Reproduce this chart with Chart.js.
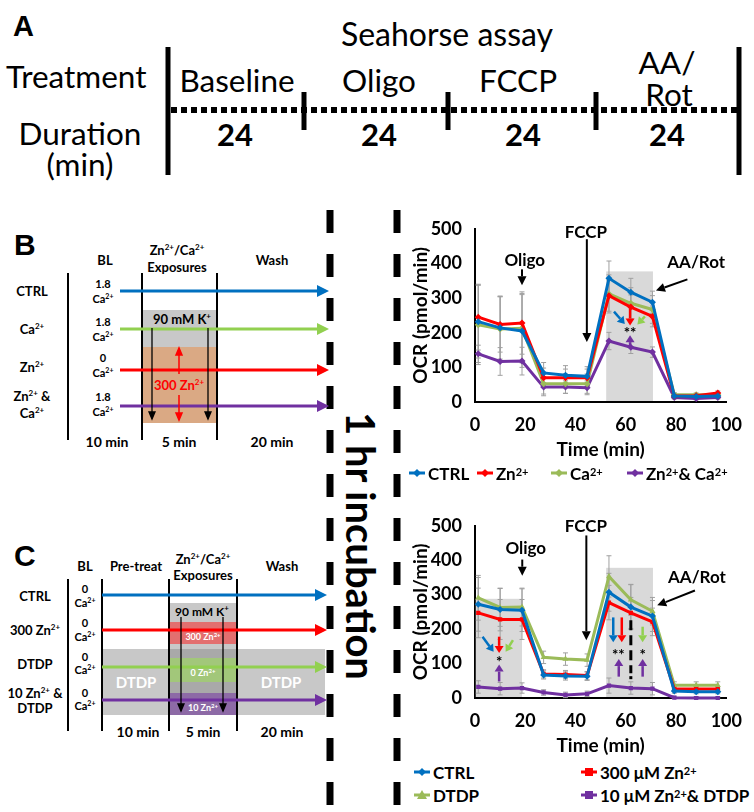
<!DOCTYPE html>
<html><head><meta charset="utf-8">
<script src="https://cdn.jsdelivr.net/npm/chart.js@4.4.1/dist/chart.umd.min.js"></script>
<style>
html,body{margin:0;padding:0;background:#fff;}
#wrap{position:relative;width:754px;height:812px;overflow:hidden;font-family:Lato,"Open Sans",sans-serif;}
#diag{position:absolute;left:0;top:0;}
.cv{position:absolute;}
.leg{position:absolute;height:22px;font-weight:700;font-size:17px;display:flex;align-items:center;white-space:nowrap;color:#000;font-family:Lato,sans-serif;}
.leg svg{margin-right:3px;}
.leg sup{font-size:11px;line-height:0;position:relative;top:-1px;}
</style></head>
<body>
<div id="wrap">
<svg id="diag" width="754" height="812" xmlns="http://www.w3.org/2000/svg" font-family="Lato, sans-serif">
  <!-- Panel A -->
  <text x="13" y="36" font-family="Liberation Sans, Arial, sans-serif" font-weight="700" font-size="29">A</text>
  <text x="447" y="46" font-size="32" text-anchor="middle">Seahorse assay</text>
  <text x="6" y="88" font-size="31.5">Treatment</text>
  <text x="80" y="145" font-size="31.5" text-anchor="middle">Duration</text>
  <text x="80" y="176" font-size="31.5" text-anchor="middle">(min)</text>
  <text x="237" y="92" font-size="31.5" text-anchor="middle">Baseline</text>
  <text x="379" y="92" font-size="31.5" text-anchor="middle">Oligo</text>
  <text x="518" y="92" font-size="31.5" text-anchor="middle">FCCP</text>
  <text x="667" y="74" font-size="31.5" text-anchor="middle">AA/</text>
  <text x="669" y="106" font-size="31.5" text-anchor="middle">Rot</text>
  <g font-size="31" font-weight="700" text-anchor="middle">
    <text x="235" y="146">24</text><text x="379" y="146">24</text><text x="523" y="146">24</text><text x="667" y="146">24</text>
  </g>
  <line x1="168" y1="47" x2="168" y2="175" stroke="#000" stroke-width="5"/>
  <line x1="739" y1="47" x2="739" y2="175" stroke="#000" stroke-width="5"/>
  <line x1="304" y1="92" x2="304" y2="130" stroke="#000" stroke-width="5"/>
  <line x1="448" y1="92" x2="448" y2="130" stroke="#000" stroke-width="5"/>
  <line x1="596" y1="92" x2="596" y2="130" stroke="#000" stroke-width="5"/>
  <line x1="171" y1="110" x2="737" y2="110" stroke="#000" stroke-width="6" stroke-dasharray="6 4"/>

  <!-- dashed separators -->
  <line x1="330" y1="210" x2="330" y2="812" stroke="#000" stroke-width="7" stroke-dasharray="23 21"/>
  <line x1="397" y1="210" x2="397" y2="812" stroke="#000" stroke-width="7" stroke-dasharray="23 21"/>
  <text transform="translate(361,546) rotate(90)" text-anchor="middle" dominant-baseline="central" font-size="40" font-weight="700">1 hr incubation</text>

  <!-- Panel B diagram -->
  <text x="14" y="255" font-family="Liberation Sans, Arial, sans-serif" font-weight="700" font-size="30">B</text>
  <rect x="143" y="310" width="74" height="37" fill="#c8c8c8"/>
  <rect x="143" y="347" width="74" height="76" fill="#daa984"/>
  <g stroke="#000" stroke-width="2">
    <line x1="68" y1="273" x2="68" y2="440"/>
    <line x1="142" y1="273" x2="142" y2="440"/>
    <line x1="217" y1="273" x2="217" y2="440"/>
  </g>
  <g font-weight="700" font-size="13" text-anchor="middle">
    <text x="105" y="265">BL</text>
    <text x="177" y="255">Zn<tspan font-size="8" dy="-5">2+</tspan><tspan dy="5">/Ca</tspan><tspan font-size="8" dy="-5">2+</tspan></text>
    <text x="177" y="272">Exposures</text>
    <text x="272" y="265">Wash</text>
    <text x="32" y="296">CTRL</text>
    <text x="32" y="334">Ca<tspan font-size="8" dy="-5">2+</tspan></text>
    <text x="32" y="372">Zn<tspan font-size="8" dy="-5">2+</tspan></text>
    <text x="32" y="401">Zn<tspan font-size="8" dy="-5">2+</tspan><tspan dy="5"> &amp;</tspan></text>
    <text x="32" y="418">Ca<tspan font-size="8" dy="-5">2+</tspan></text>
    <text x="107" y="447" font-size="14">10 min</text>
    <text x="179" y="447" font-size="14">5 min</text>
    <text x="272" y="447" font-size="14">20 min</text>
  </g>
  <g font-weight="700" font-size="11" text-anchor="middle">
    <text x="103" y="288">1.8</text><text x="103" y="303">Ca<tspan font-size="7" dy="-4">2+</tspan></text>
    <text x="103" y="326">1.8</text><text x="103" y="341">Ca<tspan font-size="7" dy="-4">2+</tspan></text>
    <text x="103" y="362">0</text><text x="103" y="377">Ca<tspan font-size="7" dy="-4">2+</tspan></text>
    <text x="103" y="401">1.8</text><text x="103" y="416">Ca<tspan font-size="7" dy="-4">2+</tspan></text>
  </g>
  <text x="182" y="324" font-size="13" font-weight="700" text-anchor="middle">90 mM K<tspan font-size="8" dy="-5">+</tspan></text>
  <text x="179" y="390" font-size="13" font-weight="700" text-anchor="middle" fill="#ff0000">300 Zn<tspan font-size="8" dy="-5">2+</tspan></text>
  <!-- B arrows -->
  <g stroke-width="3">
    <line x1="120" y1="291" x2="318" y2="291" stroke="#0070C0"/><polygon points="317,285 329,291 317,297" fill="#0070C0"/>
    <line x1="120" y1="329" x2="318" y2="329" stroke="#92D050"/><polygon points="317,323 329,329 317,335" fill="#92D050"/>
    <line x1="120" y1="370" x2="318" y2="370" stroke="#FF0000"/><polygon points="317,364 329,370 317,376" fill="#FF0000"/>
    <line x1="120" y1="406" x2="318" y2="406" stroke="#7030A0"/><polygon points="317,400 329,406 317,412" fill="#7030A0"/>
  </g>
  <g stroke="#000" stroke-width="1.3">
    <line x1="152" y1="328" x2="152" y2="413"/><polygon points="149,412 152,419 155,412" fill="#000"/>
    <line x1="208" y1="328" x2="208" y2="413"/><polygon points="205,412 208,419 211,412" fill="#000"/>
  </g>
  <g stroke="#FF0000" stroke-width="1.5">
    <line x1="179" y1="374" x2="179" y2="354"/><polygon points="176,355 179,348 182,355" fill="#FF0000"/>
    <line x1="179" y1="395" x2="179" y2="414"/><polygon points="176,413 179,420 182,413" fill="#FF0000"/>
  </g>

  <!-- Panel C diagram -->
  <text x="14" y="566" font-family="Liberation Sans, Arial, sans-serif" font-weight="700" font-size="30">C</text>
  <rect x="102" y="649" width="223" height="66" fill="#c8c8c8"/>
  <rect x="169" y="603" width="68" height="112" fill="#c8c8c8"/>
  <rect x="169" y="649" width="68" height="66" fill="#a9a9a9"/>
  <rect x="169" y="622" width="68" height="22" fill="#e36f6f"/>
  <rect x="169" y="658" width="68" height="24" fill="#a2c77a"/>
  <rect x="169" y="693" width="68" height="22" fill="#8d6aa6"/>
  <g stroke="#000" stroke-width="2">
    <line x1="68" y1="579" x2="68" y2="731"/>
    <line x1="102" y1="579" x2="102" y2="731"/>
    <line x1="169" y1="579" x2="169" y2="731"/>
    <line x1="237" y1="579" x2="237" y2="731"/>
  </g>
  <g font-weight="700" font-size="13" text-anchor="middle">
    <text x="85" y="571">BL</text>
    <text x="136" y="571">Pre-treat</text>
    <text x="203" y="564">Zn<tspan font-size="8" dy="-5">2+</tspan><tspan dy="5">/Ca</tspan><tspan font-size="8" dy="-5">2+</tspan></text>
    <text x="203" y="580">Exposures</text>
    <text x="282" y="571">Wash</text>
    <text x="35" y="601">CTRL</text>
    <text x="35" y="635">300 Zn<tspan font-size="8" dy="-5">2+</tspan></text>
    <text x="35" y="669">DTDP</text>
    <text x="35" y="698">10 Zn<tspan font-size="8" dy="-5">2+</tspan><tspan dy="5"> &amp;</tspan></text>
    <text x="35" y="713">DTDP</text>
    <text x="138" y="737" font-size="14">10 min</text>
    <text x="203" y="737" font-size="14">5 min</text>
    <text x="282" y="737" font-size="14">20 min</text>
    <text x="136" y="688" font-size="15" fill="#fff">DTDP</text>
    <text x="281" y="688" font-size="15" fill="#fff">DTDP</text>
  </g>
  <g font-weight="700" font-size="11" text-anchor="middle">
    <text x="85" y="593">0</text><text x="85" y="607">Ca<tspan font-size="7" dy="-4">2+</tspan></text>
    <text x="85" y="627">0</text><text x="85" y="641">Ca<tspan font-size="7" dy="-4">2+</tspan></text>
    <text x="85" y="661">0</text><text x="85" y="674">Ca<tspan font-size="7" dy="-4">2+</tspan></text>
    <text x="85" y="697">0</text><text x="85" y="710">Ca<tspan font-size="7" dy="-4">2+</tspan></text>
  </g>
  <text x="202" y="616" font-size="12" font-weight="700" text-anchor="middle">90 mM K<tspan font-size="8" dy="-5">+</tspan></text>
  <g font-size="9" font-weight="700" text-anchor="middle" fill="#fff">
    <text x="203" y="640">300 Zn<tspan font-size="6" dy="-3">2+</tspan></text>
    <text x="203" y="676">0 Zn<tspan font-size="6" dy="-3">2+</tspan></text>
    <text x="203" y="711">10 Zn<tspan font-size="6" dy="-3">2+</tspan></text>
  </g>
  <g stroke-width="3">
    <line x1="102" y1="595" x2="316" y2="595" stroke="#0070C0"/><polygon points="315,589 327,595 315,601" fill="#0070C0"/>
    <line x1="102" y1="630" x2="316" y2="630" stroke="#FF0000"/><polygon points="315,624 327,630 315,636" fill="#FF0000"/>
    <line x1="102" y1="667" x2="316" y2="667" stroke="#92D050"/><polygon points="315,661 327,667 315,673" fill="#92D050"/>
    <line x1="102" y1="700" x2="316" y2="700" stroke="#7030A0"/><polygon points="315,694 327,700 315,706" fill="#7030A0"/>
  </g>
  <g stroke="#000" stroke-width="1.3">
    <line x1="181" y1="617" x2="181" y2="705"/><polygon points="178,704 181,711 184,704" fill="#000"/>
    <line x1="223" y1="617" x2="223" y2="705"/><polygon points="220,704 223,711 226,704" fill="#000"/>
  </g>
</svg>

<canvas id="chartB" class="cv" width="364" height="260" style="left:390px;top:205px;width:364px;height:260px"></canvas>
<canvas id="chartC" class="cv" width="364" height="259" style="left:390px;top:502px;width:364px;height:259px"></canvas>

<!-- legends -->
<div class="leg" style="left:409px;top:462px"><svg width="16" height="10"><line x1="0" y1="5" x2="16" y2="5" stroke="#0070C0" stroke-width="3"/><polygon points="8,1 12,5 8,9 4,5" fill="#0070C0"/></svg>CTRL</div>
<div class="leg" style="left:477px;top:462px"><svg width="16" height="10"><line x1="0" y1="5" x2="16" y2="5" stroke="#FF0000" stroke-width="3"/><polygon points="8,1 12,5 8,9 4,5" fill="#FF0000"/></svg>Zn<sup>2+</sup></div>
<div class="leg" style="left:551px;top:462px"><svg width="16" height="10"><line x1="0" y1="5" x2="16" y2="5" stroke="#9BBB59" stroke-width="3"/><polygon points="8,1 12,5 8,9 4,5" fill="#9BBB59"/></svg>Ca<sup>2+</sup></div>
<div class="leg" style="left:627px;top:462px"><svg width="16" height="10"><line x1="0" y1="5" x2="16" y2="5" stroke="#7030A0" stroke-width="3"/><polygon points="8,1 12,5 8,9 4,5" fill="#7030A0"/></svg>Zn<sup>2+</sup>&amp; Ca<sup>2+</sup></div>

<div class="leg" style="left:414px;top:761px"><svg width="16" height="10"><line x1="0" y1="5" x2="16" y2="5" stroke="#0070C0" stroke-width="3"/><polygon points="8,1 12,5 8,9 4,5" fill="#0070C0"/></svg>CTRL</div>
<div class="leg" style="left:581px;top:761px"><svg width="16" height="10"><line x1="0" y1="5" x2="16" y2="5" stroke="#FF0000" stroke-width="3"/><rect x="4" y="1" width="8" height="8" fill="#FF0000"/></svg>300 μM Zn<sup>2+</sup></div>
<div class="leg" style="left:414px;top:784px"><svg width="16" height="10"><line x1="0" y1="5" x2="16" y2="5" stroke="#9BBB59" stroke-width="3"/><polygon points="8,0 13,9 3,9" fill="#9BBB59"/></svg>DTDP</div>
<div class="leg" style="left:581px;top:784px"><svg width="16" height="10"><line x1="0" y1="5" x2="16" y2="5" stroke="#7030A0" stroke-width="3"/><rect x="4" y="1" width="8" height="8" fill="#7030A0"/></svg>10 μM Zn<sup>2+</sup> &amp; DTDP</div>
</div>

<script>
// ---- data ----
const times = [1.3, 10, 18.7, 27.3, 36, 44.6, 53.3, 62, 70.6, 79.3, 88, 96.6];
const xTickStep = 20;
const yTickStep = 100;

// Panel B
const bCtrl  = [232, 214, 205, 84, 77, 74, 357, 317, 288, 17, 16, 17];
const bZn    = [245, 224, 228, 70, 70, 70, 307, 274, 247, 17, 18, 26];
const bCa    = [223, 211, 213, 53, 53, 53, 312, 285, 267, 21, 21, 20];
const bZnCa  = [139, 117, 118, 43, 43, 41, 176, 158, 144, 13, 10, 13];
const bCtrlErr = [105, 90, 105, 30, 28, 28, 50, 40, 32, 6, 5, 5];
const bZnErr   = [95, 80, 90, 28, 25, 25, 45, 35, 30, 5, 5, 6];
const bCaErr   = [115, 95, 100, 30, 28, 28, 55, 45, 40, 6, 5, 5];
const bZnCaErr = [25, 40, 40, 25, 18, 20, 25, 18, 15, 4, 4, 4];

// Panel C
const cCtrl   = [272, 257, 255, 67, 64, 63, 307, 264, 238, 20, 18, 18];
const cZn300  = [247, 228, 228, 70, 68, 65, 277, 247, 221, 26, 26, 26];
const cDtdp   = [291, 263, 264, 118, 113, 110, 353, 285, 252, 37, 37, 37];
const cZnDtdp = [32, 27, 29, 16, 9, 12, 36, 29, 27, 1, 0, 0];
const cCtrlErr   = [78, 62, 62, 12, 12, 12, 55, 65, 45, 6, 6, 6];
const cZn300Err  = [72, 58, 58, 12, 12, 12, 50, 45, 40, 6, 6, 6];
const cDtdpErr   = [65, 55, 55, 18, 18, 18, 60, 45, 40, 10, 10, 10];
const cZnDtdpErr = [18, 18, 15, 8, 8, 8, 22, 18, 18, 4, 4, 4];

const BLUE = '#0070C0', RED = '#FF0000', GREEN = '#9BBB59', PURPLE = '#7030A0', LGREEN = '#92D050';

// ---- annotations (data units) ----
const notesB = {
  boxes: [{x0: 52.2, x1: 70.8, top: 377}],
  texts: [{t: 'Oligo', x: 19.8, y: 409}, {t: 'FCCP', x: 44.1, y: 489}, {t: 'AA/Rot', x: 88, y: 403}],
  arrows: [{x0: 18.7, y0: 383, x1: 18.7, y1: 337}, {x0: 44.5, y0: 470, x1: 44.5, y1: 173}, {x0: 84.5, y0: 354, x1: 72, y1: 322}],
  colorArrows: [
    {x0: 55.3, y0: 261, x1: 59.6, y1: 225, c: BLUE},
    {x0: 61.7, y0: 270, x1: 61.7, y1: 221, c: RED},
    {x0: 67.6, y0: 247, x1: 64.6, y1: 224, c: LGREEN},
    {x0: 61.7, y0: 160, x1: 61.7, y1: 193, c: PURPLE}
  ],
  stars: [{t: '**', x: 61.7, y: 206}],
  dashdot: []
};
const notesC = {
  boxes: [{x0: 0.3, x1: 18.7, top: 288}, {x0: 52.2, x1: 70.8, top: 378}],
  texts: [{t: 'Oligo', x: 20.2, y: 433}, {t: 'FCCP', x: 44.1, y: 499}, {t: 'AA/Rot', x: 88.3, y: 350}],
  arrows: [{x0: 18.8, y0: 402, x1: 18.8, y1: 355}, {x0: 44.3, y0: 472, x1: 44.3, y1: 168}, {x0: 87.5, y0: 312, x1: 72.5, y1: 269}],
  colorArrows: [
    {x0: 3.0, y0: 178, x1: 7.4, y1: 134, c: BLUE},
    {x0: 9.6, y0: 178, x1: 9.6, y1: 131, c: RED},
    {x0: 15.1, y0: 168, x1: 12.2, y1: 134, c: LGREEN},
    {x0: 9.6, y0: 48, x1: 9.6, y1: 97, c: PURPLE},
    {x0: 55.0, y0: 234, x1: 55.0, y1: 162, c: BLUE},
    {x0: 58.4, y0: 234, x1: 58.4, y1: 162, c: RED},
    {x0: 66.7, y0: 207, x1: 66.7, y1: 162, c: LGREEN},
    {x0: 57.2, y0: 62, x1: 57.2, y1: 113, c: PURPLE},
    {x0: 66.7, y0: 62, x1: 66.7, y1: 113, c: PURPLE}
  ],
  stars: [{t: '*', x: 9.6, y: 112}, {t: '**', x: 57.0, y: 134}, {t: '*', x: 66.7, y: 134}],
  dashdot: [{x: 62, y0: 226, y1: 72, dot: 59}]
};

function arrow(ctx, x0, y0, x1, y1, color, lw, hl, hw) {
  const a = Math.atan2(y1 - y0, x1 - x0);
  const bx = x1 - hl * Math.cos(a), by = y1 - hl * Math.sin(a);
  ctx.strokeStyle = color; ctx.lineWidth = lw;
  ctx.beginPath(); ctx.moveTo(x0, y0); ctx.lineTo(bx, by); ctx.stroke();
  ctx.fillStyle = color; ctx.beginPath();
  ctx.moveTo(x1, y1);
  ctx.lineTo(bx + hw * Math.sin(a), by - hw * Math.cos(a));
  ctx.lineTo(bx - hw * Math.sin(a), by + hw * Math.cos(a));
  ctx.closePath(); ctx.fill();
}

function notesPlugin(notes) {
  return {
    id: 'notes',
    beforeDatasetsDraw(chart) {
      const {ctx, scales: {x, y}} = chart;
      ctx.save();
      ctx.fillStyle = '#d9d9d9';
      notes.boxes.forEach(b => {
        const px0 = x.getPixelForValue(b.x0), px1 = x.getPixelForValue(b.x1);
        const pt = y.getPixelForValue(b.top), pb = y.getPixelForValue(0);
        ctx.fillRect(px0, pt, px1 - px0, pb - pt - 1);
      });
      ctx.strokeStyle = '#a0a0a0'; ctx.lineWidth = 1;
      chart.data.datasets.forEach(ds => {
        ds.data.forEach((p, i) => {
          const e = ds.errs[i];
          const px = x.getPixelForValue(p.x);
          const top = y.getPixelForValue(p.y + e), bot = y.getPixelForValue(Math.max(0, p.y - e));
          ctx.beginPath();
          ctx.moveTo(px, top); ctx.lineTo(px, bot);
          ctx.moveTo(px - 2.5, top); ctx.lineTo(px + 2.5, top);
          ctx.moveTo(px - 2.5, bot); ctx.lineTo(px + 2.5, bot);
          ctx.stroke();
        });
      });
      ctx.restore();
    },
    afterDatasetsDraw(chart) {
      const {ctx, scales: {x, y}} = chart;
      const X = v => x.getPixelForValue(v), Y = v => y.getPixelForValue(v);
      ctx.save();
      ctx.fillStyle = '#000'; ctx.textAlign = 'center'; ctx.textBaseline = 'middle';
      ctx.font = 'bold 17px Lato, sans-serif';
      notes.texts.forEach(t => ctx.fillText(t.t, X(t.x), Y(t.y)));
      notes.arrows.forEach(a => arrow(ctx, X(a.x0), Y(a.y0), X(a.x1), Y(a.y1), '#000', 2, 9, 4.5));
      notes.colorArrows.forEach(a => arrow(ctx, X(a.x0), Y(a.y0), X(a.x1), Y(a.y1), a.c, 2.5, 7, 4.5));
      ctx.fillStyle = '#000'; ctx.font = 'bold 15px Lato, sans-serif';
      notes.stars.forEach(s => ctx.fillText(s.t, X(s.x), Y(s.y) + 3));
      notes.dashdot.forEach(d => {
        ctx.strokeStyle = '#000'; ctx.lineWidth = 3; ctx.setLineDash([10, 5]);
        ctx.beginPath(); ctx.moveTo(X(d.x), Y(d.y0)); ctx.lineTo(X(d.x), Y(d.y1)); ctx.stroke();
        ctx.setLineDash([]);
        ctx.fillRect(X(d.x) - 1.5, Y(d.dot) - 1.5, 3, 3);
      });
      ctx.restore();
    }
  };
}

function mkSet(label, vals, errs, color, style, radius) {
  return {
    label, errs,
    data: times.map((t, i) => ({x: t, y: vals[i]})),
    borderColor: color, backgroundColor: color, borderWidth: 3,
    pointStyle: style, pointRadius: radius, pointBorderWidth: 0,
    pointBackgroundColor: color, tension: 0, clip: 8
  };
}

function makeChart(id, datasets, notes) {
  return new Chart(document.getElementById(id), {
    type: 'line',
    data: {datasets},
    options: {
      responsive: false, animation: false,
      layout: {padding: {top: 23, right: 26, left: 0, bottom: 0}},
      plugins: {legend: {display: false}, tooltip: {enabled: false}},
      scales: {
        x: {
          type: 'linear', min: 0, max: 100,
          ticks: {stepSize: xTickStep, padding: 12, color: '#000', font: {size: 18, weight: 'bold'}},
          grid: {display: true, drawOnChartArea: false, drawTicks: false},
          border: {display: true, color: '#000', width: 2},
          title: {display: true, text: 'Time (min)', color: '#000', font: {size: 19, weight: 'bold'}, padding: {top: 0, bottom: 4}},
          afterFit(s) { s.height = 63; }
        },
        y: {
          min: 0, max: 500,
          ticks: {stepSize: yTickStep, padding: 13, color: '#000', font: {size: 18, weight: 'bold'}},
          grid: {display: true, drawOnChartArea: false, drawTicks: false},
          border: {display: true, color: '#000', width: 2},
          title: {display: true, text: 'OCR (pmol/min)', color: '#000', font: {size: 19, weight: 'bold'}, padding: {top: 19, bottom: 0}},
          afterFit(s) { s.width = 85; }
        }
      }
    },
    plugins: [notesPlugin(notes)]
  });
}

function draw() {
  Chart.defaults.font.family = 'Lato, sans-serif';
  makeChart('chartB', [
    mkSet('CTRL', bCtrl, bCtrlErr, BLUE, 'rectRot', 3.5),
    mkSet('Zn2+', bZn, bZnErr, RED, 'rectRot', 3.5),
    mkSet('Ca2+', bCa, bCaErr, GREEN, 'rectRot', 3.5),
    mkSet('Zn2+& Ca2+', bZnCa, bZnCaErr, PURPLE, 'rectRot', 3.5)
  ], notesB);
  makeChart('chartC', [
    mkSet('CTRL', cCtrl, cCtrlErr, BLUE, 'rectRot', 3.5),
    mkSet('300 μM Zn2+', cZn300, cZn300Err, RED, 'rect', 3),
    mkSet('DTDP', cDtdp, cDtdpErr, GREEN, 'triangle', 3.5),
    mkSet('10 μM Zn2+ & DTDP', cZnDtdp, cZnDtdpErr, PURPLE, 'rect', 3)
  ], notesC);
}
if (document.fonts && document.fonts.load) {
  Promise.all([document.fonts.load('bold 18px Lato'), document.fonts.load('18px Lato')]).then(draw, draw);
} else { draw(); }
</script>
</body></html>
